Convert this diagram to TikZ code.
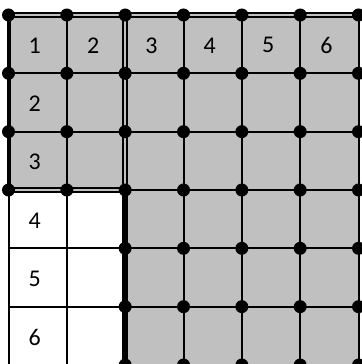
\documentclass[tikz,border=0pt]{standalone}
\usepackage{fontspec}
\setmainfont{Carlito}
\usepackage{tikz}
\usetikzlibrary{positioning}
\definecolor{cellgray}{RGB}{192,192,192}

\begin{document}
\begin{tikzpicture}[
  x=58.33pt, y=-58.33pt,
  num/.style={font=\fontsize{24}{28}\selectfont, inner sep=0pt},
  gridline/.style={line width=2pt},
  border/.style={line width=2pt, double=cellgray, double distance=1.6pt},
  joint/.style={circle, fill=black, inner sep=0pt, minimum size=13pt}
]
\useasboundingbox (-0.146,-0.257) rectangle (6.043,5.983);
% shaded part of the table
\fill[cellgray] (0,0) -- (6,0) -- (6,6) -- (2,6) -- (2,3) -- (0,3) -- cycle;
\foreach \k in {0,...,6} {
  \draw[gridline] (\k,0) -- (\k,6);
  \draw[gridline] (0,\k) -- (6,\k);
}
% outline of the first rows
\draw[border] (0,0) -- (6,0);
\draw[border] (0,3) -- (2,3) -- (2,0);
\draw[line width=4pt] (0,0) -- (0,3);
\draw[line width=6pt] (2,3) -- (2,6);
% joints
\foreach \i in {0,...,6} {
  \foreach \j in {0,...,6} {
    \pgfmathtruncatemacro{\skip}{(\i<2)&&(\j>3)}
    \ifnum\skip=0
      \node[joint] (j-\i-\j) at (\i,\j) {};
    \fi
  }
}
% numbers
\foreach \n in {1,...,6}
  \node[num] (col\n) at (\n-0.55,0.52) {\n};
\foreach \n in {2,...,6}
  \node[num] (row\n) at (0.45,\n-0.48) {\n};
\end{tikzpicture}
\end{document}
